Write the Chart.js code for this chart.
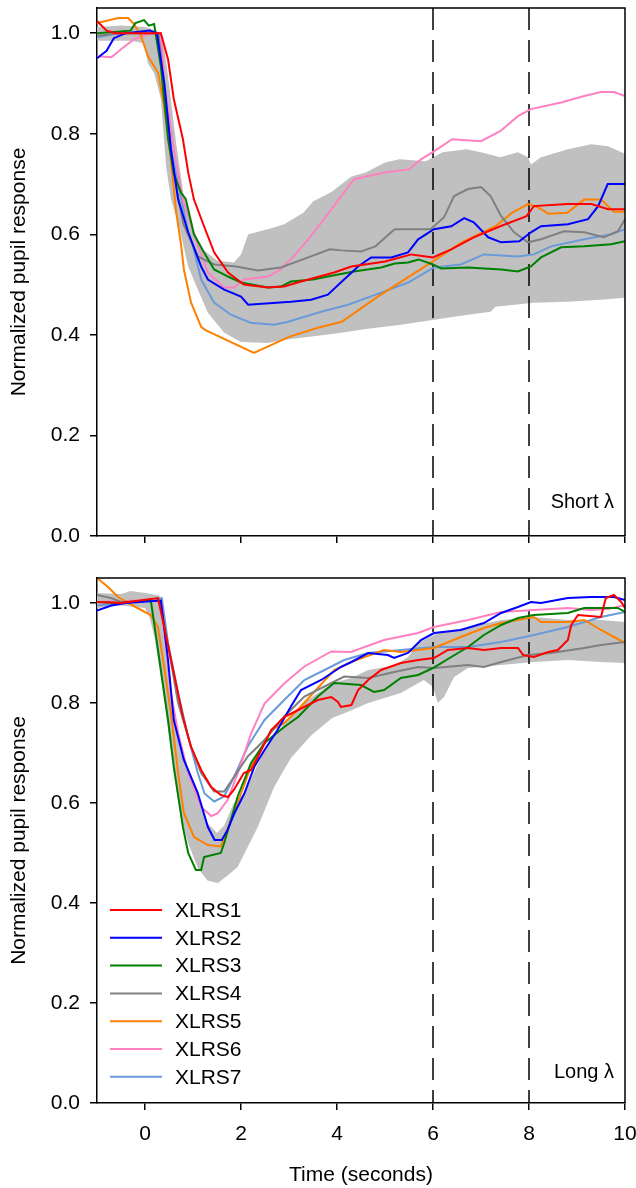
<!DOCTYPE html>
<html>
<head>
<meta charset="utf-8">
<title>Pupil response</title>
<style>
  body { margin: 0; background: #fff; }
  #wrap { position: relative; width: 636px; height: 1188px; }
  canvas { position: absolute; left: 0; }
</style>
</head>
<body>
<div id="wrap">
  <canvas id="shortChart" width="636" height="560" style="top:0px"></canvas>
  <canvas id="longChart" width="636" height="628" style="top:560px"></canvas>
</div>
<script src="https://cdn.jsdelivr.net/npm/chart.js@4.4.0/dist/chart.umd.min.js"></script>
<script>
// ---- data: [time (s), normalized response] ----
var names = ['XLRS1', 'XLRS2', 'XLRS3', 'XLRS4', 'XLRS5', 'XLRS6', 'XLRS7'];
var colors = ['#ff0000', '#0000ff', '#008000', '#808080', '#ff8000', '#ff80c0', '#6a9ad8'];
var xTicks = [0, 2, 4, 6, 8, 10];
var yTicks = [0, 0.2, 0.4, 0.6, 0.8, 1.0];
var markerTimes = [6, 8];
var yMax = 1.05;

// short wavelength (top)
var short1 = [[-1,1.024],[-0.8,1.005],[-0.6,1.0],[0,1.0],[0.33,1.0],[0.48,0.948],[0.6,0.869],[0.79,0.789],[0.9,0.723],[1.02,0.669],[1.23,0.616],[1.44,0.564],[1.73,0.524],[2.06,0.5],[2.56,0.494],[2.9,0.496],[3.25,0.506],[3.94,0.524],[4.3,0.536],[5.0,0.546],[5.55,0.56],[6.0,0.554],[6.38,0.57],[6.85,0.594],[7.4,0.616],[7.95,0.636],[8.1,0.656],[8.8,0.66],[9.3,0.66],[9.65,0.65],[10,0.65]];
var short2 = [[-1,0.95],[-0.8,0.965],[-0.65,0.99],[-0.4,1.0],[0.1,1.005],[0.25,1.0],[0.4,0.902],[0.54,0.769],[0.69,0.669],[0.9,0.604],[1.17,0.536],[1.31,0.51],[1.65,0.49],[2.0,0.476],[2.15,0.46],[3.04,0.466],[3.46,0.47],[3.81,0.48],[4.08,0.504],[4.44,0.536],[4.71,0.554],[5.13,0.554],[5.48,0.564],[5.69,0.59],[6.02,0.61],[6.38,0.616],[6.65,0.632],[6.85,0.624],[7.15,0.594],[7.42,0.584],[7.8,0.586],[8.04,0.604],[8.25,0.616],[8.81,0.62],[9.23,0.63],[9.44,0.656],[9.64,0.7],[10,0.7]];
var short3 = [[-1,1.0],[-0.3,1.005],[-0.2,1.02],[-0.02,1.026],[0.08,1.015],[0.19,1.018],[0.33,0.934],[0.48,0.79],[0.6,0.72],[0.75,0.683],[0.85,0.67],[1.02,0.6],[1.23,0.564],[1.44,0.53],[1.73,0.516],[2.0,0.504],[2.56,0.494],[2.83,0.496],[3.04,0.506],[3.5,0.51],[3.81,0.516],[4.35,0.526],[4.92,0.534],[5.2,0.542],[5.48,0.544],[5.7,0.55],[6.0,0.54],[6.17,0.532],[6.73,0.534],[7.42,0.53],[7.77,0.526],[8.04,0.536],[8.25,0.554],[8.67,0.574],[9.15,0.576],[9.71,0.58],[10,0.586]];
var short4 = [[-1,0.995],[-0.5,1.0],[0.28,1.0],[0.3,0.98],[0.45,0.85],[0.6,0.72],[0.8,0.62],[1.1,0.556],[1.44,0.54],[1.9,0.536],[2.35,0.528],[2.83,0.534],[3.4,0.554],[3.85,0.57],[4.1,0.568],[4.5,0.566],[4.8,0.576],[5.2,0.61],[5.55,0.61],[5.95,0.61],[6.23,0.634],[6.44,0.676],[6.73,0.69],[7.0,0.694],[7.2,0.676],[7.42,0.636],[7.69,0.604],[7.98,0.584],[8.25,0.59],[8.73,0.606],[9.15,0.604],[9.56,0.594],[9.85,0.606],[10,0.63]];
var short5 = [[-1,1.02],[-0.56,1.03],[-0.35,1.03],[-0.23,1.018],[-0.08,0.994],[0.06,0.954],[0.27,0.922],[0.4,0.855],[0.54,0.749],[0.65,0.643],[0.75,0.58],[0.81,0.53],[0.96,0.464],[1.17,0.416],[1.25,0.41],[2.27,0.364],[3.0,0.396],[3.6,0.414],[4.1,0.426],[4.85,0.476],[5.9,0.54],[6.6,0.584],[7.3,0.616],[7.65,0.643],[7.98,0.66],[8.2,0.653],[8.4,0.641],[8.8,0.643],[9.15,0.669],[9.5,0.669],[9.77,0.645],[10,0.645]];
var short6 = [[-1,0.954],[-0.7,0.952],[-0.5,0.968],[-0.23,0.988],[0.06,0.998],[0.33,1.0],[0.4,0.902],[0.6,0.769],[0.79,0.669],[1.02,0.6],[1.31,0.524],[1.65,0.494],[1.85,0.494],[2.06,0.51],[2.56,0.516],[2.83,0.53],[3.1,0.556],[3.4,0.59],[3.73,0.63],[4.08,0.675],[4.35,0.709],[4.6,0.715],[5.0,0.723],[5.5,0.729],[5.75,0.749],[6.02,0.765],[6.4,0.789],[7.0,0.785],[7.4,0.805],[7.77,0.835],[8.04,0.849],[8.67,0.862],[9.15,0.875],[9.5,0.883],[9.77,0.883],[10,0.875]];
var short7 = [[-1,0.992],[-0.56,1.0],[0.28,1.0],[0.4,0.9],[0.54,0.769],[0.9,0.604],[1.0,0.576],[1.17,0.51],[1.44,0.464],[1.79,0.44],[2.2,0.424],[2.69,0.42],[2.98,0.426],[3.67,0.446],[4.23,0.46],[4.92,0.484],[5.48,0.504],[6.02,0.534],[6.58,0.54],[7.06,0.56],[7.77,0.556],[8.1,0.56],[8.46,0.576],[9.15,0.59],[9.71,0.6],[10,0.61]];
var shortBandHi = [[-1,1.012],[-0.5,1.015],[0,1.012],[0.25,1.005],[0.4,0.97],[0.5,0.9],[0.65,0.78],[0.8,0.68],[1.0,0.61],[1.2,0.57],[1.5,0.548],[1.85,0.544],[2.0,0.56],[2.15,0.6],[2.56,0.61],[2.9,0.62],[3.3,0.643],[3.5,0.665],[3.9,0.685],[4.3,0.715],[4.6,0.723],[5.0,0.743],[5.3,0.749],[5.85,0.745],[6.2,0.763],[6.7,0.769],[7.0,0.763],[7.4,0.753],[7.77,0.763],[7.98,0.753],[8.04,0.739],[8.25,0.753],[8.81,0.769],[9.3,0.779],[9.65,0.775],[10,0.76]];
var shortBandLo = [[-1,0.985],[-0.3,0.985],[-0.02,0.98],[0.06,0.94],[0.19,0.92],[0.33,0.87],[0.44,0.735],[0.54,0.67],[0.69,0.623],[0.9,0.536],[1.1,0.49],[1.31,0.444],[1.65,0.404],[2.0,0.386],[2.56,0.384],[3.04,0.392],[3.94,0.402],[4.65,0.412],[5.33,0.42],[6.02,0.43],[6.73,0.44],[7.2,0.446],[7.3,0.456],[8.1,0.464],[8.81,0.466],[9.5,0.47],[10,0.474]];

// long wavelength (bottom)
var long1 = [[-1,1.002],[-0.5,1.0],[0.27,1.01],[0.4,0.952],[0.6,0.86],[0.79,0.772],[0.96,0.712],[1.17,0.666],[1.38,0.632],[1.58,0.616],[1.73,0.612],[1.85,0.626],[2.06,0.66],[2.21,0.666],[2.35,0.692],[2.63,0.746],[2.9,0.772],[3.19,0.786],[3.6,0.806],[3.88,0.812],[4.02,0.802],[4.08,0.792],[4.3,0.796],[4.44,0.826],[4.65,0.846],[4.92,0.866],[5.33,0.88],[5.69,0.886],[6.02,0.89],[6.31,0.906],[6.73,0.91],[7.06,0.906],[7.42,0.91],[7.77,0.91],[7.88,0.896],[8.1,0.892],[8.4,0.902],[8.6,0.906],[8.81,0.926],[8.88,0.956],[9.02,0.976],[9.5,0.972],[9.6,1.01],[9.77,1.016],[9.92,1.002],[10,0.99]];
var long2 = [[-1,0.985],[-0.7,0.995],[-0.4,1.0],[0.33,1.005],[0.35,0.99],[0.48,0.886],[0.6,0.766],[0.81,0.686],[1.1,0.62],[1.31,0.552],[1.45,0.526],[1.6,0.526],[1.72,0.546],[1.86,0.579],[2.07,0.619],[2.28,0.673],[2.49,0.706],[2.76,0.746],[3.04,0.793],[3.25,0.826],[3.67,0.846],[4.08,0.872],[4.3,0.882],[4.65,0.9],[5.06,0.896],[5.19,0.89],[5.48,0.9],[5.75,0.926],[6.02,0.94],[6.58,0.946],[7.06,0.96],[7.42,0.98],[7.77,0.992],[8.04,1.002],[8.25,1.0],[8.81,1.01],[9.29,1.012],[9.77,1.012],[10,1.006]];
var long3 = [[-1,1.002],[-0.5,1.0],[0.12,1.006],[0.19,0.96],[0.33,0.866],[0.48,0.766],[0.6,0.672],[0.79,0.552],[0.9,0.5],[1.06,0.466],[1.17,0.466],[1.23,0.492],[1.58,0.5],[1.65,0.52],[1.75,0.553],[1.93,0.613],[2.21,0.68],[2.49,0.72],[2.9,0.752],[3.19,0.772],[3.6,0.813],[3.94,0.84],[4.5,0.836],[4.77,0.822],[4.98,0.826],[5.33,0.85],[5.69,0.856],[6.0,0.87],[6.38,0.892],[6.73,0.912],[7.06,0.936],[7.42,0.956],[7.77,0.97],[8.1,0.976],[8.81,0.98],[9.15,0.99],[9.85,0.99],[10,0.982]];
var long4 = [[-1,1.016],[-0.71,1.01],[-0.5,1.002],[0.3,1.005],[0.4,0.96],[0.69,0.8],[0.96,0.712],[1.17,0.66],[1.44,0.623],[1.65,0.623],[1.86,0.653],[2.14,0.693],[2.49,0.726],[2.9,0.773],[3.32,0.813],[3.74,0.833],[4.15,0.853],[4.65,0.85],[5.19,0.862],[5.69,0.872],[6.02,0.87],[6.73,0.876],[7.06,0.872],[7.42,0.882],[7.98,0.896],[8.46,0.9],[9.15,0.91],[9.5,0.916],[10,0.922]];
var long5 = [[-1,1.05],[-0.77,1.032],[-0.56,1.012],[-0.35,1.0],[-0.08,0.986],[0.12,0.976],[0.27,0.952],[0.4,0.872],[0.54,0.78],[0.69,0.66],[0.81,0.58],[1.02,0.532],[1.31,0.516],[1.58,0.513],[1.79,0.566],[2.0,0.619],[2.21,0.673],[2.49,0.72],[2.63,0.746],[2.9,0.76],[3.18,0.786],[3.6,0.83],[3.94,0.866],[4.29,0.882],[4.98,0.906],[5.33,0.902],[6.02,0.91],[6.58,0.932],[7.06,0.95],[7.42,0.96],[8.1,0.972],[8.25,0.962],[8.81,0.962],[9.15,0.966],[9.5,0.946],[9.77,0.932],[10,0.92]];
var long6 = [[-1,1.002],[0.12,1.006],[0.35,1.0],[0.4,0.95],[0.54,0.82],[0.69,0.74],[0.9,0.66],[1.17,0.592],[1.38,0.574],[1.51,0.579],[1.72,0.606],[1.93,0.659],[2.21,0.739],[2.49,0.799],[2.9,0.839],[3.32,0.873],[3.88,0.903],[4.29,0.902],[4.98,0.926],[5.69,0.94],[6.02,0.952],[6.73,0.966],[7.42,0.982],[8.1,0.986],[8.81,0.99],[9.29,0.986],[9.65,0.988],[10,0.996]];
var long7 = [[-1,0.995],[-0.5,1.0],[0.35,1.01],[0.48,0.92],[0.69,0.82],[0.9,0.732],[1.1,0.66],[1.24,0.619],[1.44,0.603],[1.65,0.613],[1.86,0.653],[2.14,0.713],[2.49,0.766],[2.9,0.806],[3.32,0.846],[3.74,0.866],[4.15,0.886],[4.65,0.9],[5.33,0.906],[6.02,0.912],[6.73,0.912],[7.42,0.922],[8.1,0.936],[8.81,0.952],[9.5,0.972],[10,0.982]];
var longBandHi = [[-1,1.02],[-0.5,1.018],[-0.3,1.024],[0,1.02],[0.3,1.015],[0.36,1.0],[0.5,0.86],[0.62,0.76],[0.82,0.68],[1.1,0.62],[1.3,0.56],[1.5,0.54],[1.65,0.555],[1.85,0.6],[2.07,0.62],[2.49,0.706],[2.9,0.76],[3.3,0.8],[3.9,0.84],[4.3,0.85],[4.65,0.866],[5.2,0.875],[5.48,0.892],[5.69,0.92],[6.1,0.94],[6.73,0.952],[7.42,0.966],[8.1,0.972],[8.81,0.966],[9.5,0.966],[10,0.962]];
var longBandLo = [[-1,0.99],[-0.5,0.995],[0,0.99],[0.1,0.97],[0.2,0.93],[0.3,0.87],[0.45,0.77],[0.6,0.66],[0.75,0.57],[0.9,0.52],[1.1,0.47],[1.3,0.445],[1.52,0.44],[1.72,0.455],[1.93,0.472],[2.35,0.552],[2.69,0.632],[3.04,0.69],[3.46,0.735],[3.9,0.77],[4.29,0.785],[4.65,0.8],[5.33,0.82],[5.81,0.846],[6.0,0.832],[6.1,0.8],[6.23,0.812],[6.44,0.852],[6.73,0.87],[7.42,0.876],[8.1,0.882],[8.81,0.886],[9.5,0.882],[10,0.88]];

var fontFamily = '"Liberation Sans", Arial, sans-serif';

function pts(arr) {
  return arr.map(function (p) { return { x: p[0], y: p[1] }; });
}

// top and right sides of the box
var framePlugin = {
  id: 'frame',
  afterDatasetsDraw: function (chart) {
    var a = chart.chartArea, c = chart.ctx;
    c.save();
    c.strokeStyle = '#000';
    c.lineWidth = 1.5;
    c.beginPath();
    c.moveTo(a.left, a.top);
    c.lineTo(a.right, a.top);
    c.lineTo(a.right, a.bottom);
    c.stroke();
    c.restore();
  }
};

// "Short λ" / "Long λ" and the legend box
var notesPlugin = {
  id: 'notes',
  afterDraw: function (chart, args, opts) {
    var a = chart.chartArea, c = chart.ctx;
    c.save();
    c.fillStyle = '#000';
    c.font = '20px ' + fontFamily;
    c.textAlign = 'right';
    c.textBaseline = 'middle';
    c.fillText(opts.tag, a.right - 11, a.bottom - opts.tagLift);
    if (opts.legend) {
      c.font = '21px ' + fontFamily;
      c.textAlign = 'left';
      chart.data.datasets.forEach(function (ds) {
        var i = names.indexOf(ds.label);
        if (i < 0) return;
        var y = a.top + 332 + i * 27.8;
        c.strokeStyle = ds.borderColor;
        c.lineWidth = 2;
        c.beginPath();
        c.moveTo(a.left + 13, y);
        c.lineTo(a.left + 65, y);
        c.stroke();
        c.fillStyle = '#000';
        c.fillText(ds.label, a.left + 78, y + 1);
      });
    }
    c.restore();
  }
};

function makeChart(id, series, bandHi, bandLo, tag, bottom) {
  var datasets = [];
  series.forEach(function (s, i) {
    datasets.push({
      label: names[i], data: pts(s), borderColor: colors[i], borderWidth: 2,
      pointRadius: 0, fill: false, order: i
    });
  });
  markerTimes.forEach(function (t) {
    datasets.push({
      label: 'marker', data: pts([[t, yMax], [t, 0]]), borderColor: '#000', borderWidth: 1.5,
      borderDash: [22, 10], pointRadius: 0, fill: false, order: 8
    });
  });
  datasets.push({ label: 'bandHi', data: pts(bandHi), borderWidth: 0, borderColor: 'rgba(0,0,0,0)', pointRadius: 0, fill: false, order: 20 });
  datasets.push({ label: 'bandLo', data: pts(bandLo), borderWidth: 0, borderColor: 'rgba(0,0,0,0)', pointRadius: 0, fill: '-1', backgroundColor: '#c0c0c0', order: 20 });

  var axisGrid = { display: true, drawOnChartArea: false, drawTicks: true, tickLength: 7, color: '#000', lineWidth: 1.5 };
  var axisBorder = { display: true, color: '#000', width: 1.5 };
  var canvasH = bottom ? 628 : 560;
  var padTop = bottom ? 18 : 8;
  var areaBottom = bottom ? 543 : 536;

  return new Chart(document.getElementById(id), {
    type: 'line',
    data: { datasets: datasets },
    options: {
      responsive: false,
      animation: false,
      layout: { padding: { left: 0, right: 11, top: padTop, bottom: 0 } },
      elements: { line: { tension: 0 }, point: { radius: 0 } },
      plugins: {
        legend: { display: false },
        tooltip: { enabled: false },
        notes: { tag: tag, tagLift: bottom ? 31 : 34, legend: bottom }
      },
      scales: {
        x: {
          type: 'linear', min: -1, max: 10,
          afterBuildTicks: function (s) { s.ticks = xTicks.map(function (v) { return { value: v }; }); },
          afterFit: function (s) {
            s.height = canvasH - areaBottom;
            s.paddingLeft = 0; s.paddingRight = 0;
          },
          grid: axisGrid, border: axisBorder,
          ticks: { display: bottom, color: '#000', font: { family: fontFamily, size: 21 }, padding: 12, maxRotation: 0 },
          title: { display: bottom, text: 'Time (seconds)', color: '#000', font: { family: fontFamily, size: 21 }, padding: { top: 0, bottom: 0 } }
        },
        y: {
          min: 0, max: yMax,
          afterBuildTicks: function (s) { s.ticks = yTicks.map(function (v) { return { value: v }; }); },
          afterFit: function (s) {
            s.width = 97;
            s.paddingTop = 0; s.paddingBottom = 0;
          },
          grid: axisGrid, border: axisBorder,
          ticks: { color: '#000', font: { family: fontFamily, size: 21 }, padding: 10, callback: function (v) { return v.toFixed(1); } },
          title: { display: true, text: 'Normalized pupil response', color: '#000', font: { family: fontFamily, size: 21 }, padding: { top: 7, bottom: 0 } }
        }
      }
    },
    plugins: [framePlugin, notesPlugin]
  });
}

makeChart('shortChart', [short1, short2, short3, short4, short5, short6, short7], shortBandHi, shortBandLo, 'Short \u03bb', false);
makeChart('longChart', [long1, long2, long3, long4, long5, long6, long7], longBandHi, longBandLo, 'Long \u03bb', true);
</script>
</body>
</html>
